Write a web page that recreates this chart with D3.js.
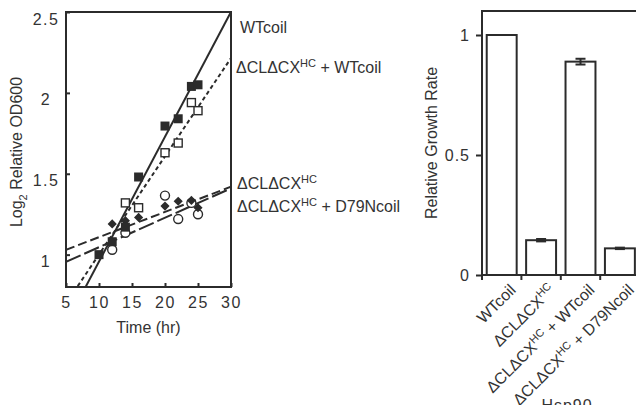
<!DOCTYPE html>
<html>
<head>
<meta charset="utf-8">
<script src="https://cdn.jsdelivr.net/npm/d3@7"></script>
<style>
  body { margin: 0; background: #fff; }
  text { font-family: Arial, "Liberation Sans", sans-serif; fill: #333; }
</style>
</head>
<body>
<svg id="chart" width="636" height="405"></svg>
<script>
(function () {
    'use strict';

    // growth curves (left panel)
    var timeTicks = [5, 10, 15, 20, 25, 30];
    var odTicks = [1, 1.5, 2, 2.5];

    var wtTime = [10, 12, 14, 16, 20, 22, 24, 25];
    var wtOD = [1.0, 1.08, 1.17, 1.48, 1.795, 1.84, 2.04, 2.05];

    var wtcTime = [14, 16, 20, 22, 24, 25];
    var wtcOD = [1.32, 1.29, 1.63, 1.69, 1.94, 1.89];

    var dclTime = [12, 14, 16, 20, 22, 24, 25];
    var dclOD = [1.19, 1.21, 1.23, 1.30, 1.33, 1.335, 1.29];

    var d79Time = [12, 14, 20, 22, 24, 25];
    var d79OD = [1.03, 1.135, 1.365, 1.22, 1.32, 1.25];

    // fitted lines: slope and intercept in log2 OD per hr
    var fitSlope = [0.0772, 0.0607, 0.0156, 0.0182];
    var fitIntercept = [0.185, 0.394, 0.952, 0.864];
    var fitDash = ["none", "4,3", "9,4", "16,4"];

    // growth rates (right panel)
    var rateNames = ["WTcoil", "dcl", "dclwt", "dcld79"];
    var rateValues = [1.0, 0.145, 0.889, 0.111];
    var rateErrors = [0, 0.005, 0.012, 0.003];
    var rateTicks = [0, 0.5, 1];

    var ink = "#2b2b2b";
    var svg = d3.select("#chart");

    // ---------- left panel ----------
    var x = d3.scaleLinear().domain([5, 30]).range([66, 231]);
    var y = d3.scaleLinear().domain([0.8, 2.5]).range([287, 12]);

    svg.append("defs").append("clipPath").attr("id", "plotclip")
        .append("rect")
        .attr("x", x(5)).attr("y", y(2.5))
        .attr("width", x(30) - x(5)).attr("height", y(0.8) - y(2.5));

    var yAxis = svg.append("g")
        .attr("transform", "translate(" + x(5) + ",0)")
        .call(d3.axisLeft(y).tickValues(odTicks).tickSize(-4).tickFormat(d3.format("")));
    yAxis.select(".domain").remove();
    yAxis.selectAll("line").attr("stroke", ink).attr("stroke-width", 2);
    yAxis.selectAll("text")
        .attr("x", -20).attr("dy", "0.75em")
        .attr("text-anchor", "middle")
        .style("font-size", "16px").style("letter-spacing", "1.5px")
        .style("fill", "#333");

    var xAxis = svg.append("g")
        .attr("transform", "translate(0," + y(0.8) + ")")
        .call(d3.axisBottom(x).tickValues(timeTicks).tickSize(-4));
    xAxis.select(".domain").remove();
    xAxis.selectAll("line").attr("stroke", ink).attr("stroke-width", 2);
    xAxis.selectAll("text")
        .attr("y", 10)
        .style("font-size", "16px").style("letter-spacing", "1.5px")
        .style("fill", "#333");

    // fit lines
    var fits = fitSlope.map(function (s, i) {
        return { s: s, b: fitIntercept[i], dash: fitDash[i] };
    });
    svg.append("g").attr("clip-path", "url(#plotclip)")
        .selectAll("line")
        .data(fits)
        .enter()
        .append("line")
        .attr("x1", x(5))
        .attr("y1", function (d) { return y(d.b + d.s * 5); })
        .attr("x2", x(30))
        .attr("y2", function (d) { return y(d.b + d.s * 30); })
        .attr("stroke", ink)
        .attr("stroke-width", 2)
        .attr("stroke-dasharray", function (d) { return d.dash; });

    function pts(ts, vs) {
        return ts.map(function (t, i) { return { t: t, v: vs[i] }; });
    }

    var marks = svg.append("g");

    marks.selectAll("circle.d79")
        .data(pts(d79Time, d79OD))
        .enter()
        .append("circle")
        .attr("class", "d79")
        .attr("cx", function (d) { return x(d.t); })
        .attr("cy", function (d) { return y(d.v); })
        .attr("r", 4.5)
        .attr("fill", "white")
        .attr("stroke", ink)
        .attr("stroke-width", 1.4);

    marks.selectAll("rect.wtc")
        .data(pts(wtcTime, wtcOD))
        .enter()
        .append("rect")
        .attr("class", "wtc")
        .attr("x", function (d) { return x(d.t) - 4; })
        .attr("y", function (d) { return y(d.v) - 4; })
        .attr("width", 8).attr("height", 8)
        .attr("fill", "white")
        .attr("stroke", ink)
        .attr("stroke-width", 1.4);

    marks.selectAll("path.dcl")
        .data(pts(dclTime, dclOD))
        .enter()
        .append("path")
        .attr("class", "dcl")
        .attr("transform", function (d) {
            return "translate(" + x(d.t) + "," + y(d.v) + ") rotate(45)";
        })
        .attr("d", d3.symbol(d3.symbolSquare, 42))
        .attr("fill", ink);

    marks.selectAll("rect.wt")
        .data(pts(wtTime, wtOD))
        .enter()
        .append("rect")
        .attr("class", "wt")
        .attr("x", function (d) { return x(d.t) - 4.5; })
        .attr("y", function (d) { return y(d.v) - 4.5; })
        .attr("width", 9).attr("height", 9)
        .attr("fill", ink);

    // frame
    svg.append("rect")
        .attr("x", x(5)).attr("y", y(2.5))
        .attr("width", x(30) - x(5)).attr("height", y(0.8) - y(2.5))
        .attr("fill", "none").attr("stroke", ink).attr("stroke-width", 2);

    svg.append("text")
        .attr("transform", "translate(22,152) rotate(-90)")
        .attr("text-anchor", "middle")
        .style("font-size", "16px")
        .call(function (t) {
            t.append("tspan").text("Log");
            t.append("tspan").attr("dy", 5).style("font-size", "11px").text("2");
            t.append("tspan").attr("dy", -5).text(" Relative OD600");
        });

    svg.append("text")
        .attr("x", (x(5) + x(30)) / 2).attr("y", 333)
        .attr("text-anchor", "middle")
        .style("font-size", "16px")
        .text("Time (hr)");

    // legend labels beside the fits
    function mutant(t, tail) {
        t.append("tspan").text("\u0394CL\u0394CX");
        t.append("tspan").attr("dy", -6).style("font-size", "11px").text("HC");
        if (tail) {
            t.append("tspan").attr("dy", 6).text(tail);
        }
    }
    svg.append("text").attr("x", 240).attr("y", 33)
        .style("font-size", "16px").text("WTcoil");
    svg.append("text").attr("x", 236).attr("y", 73)
        .style("font-size", "16px").call(mutant, " + WTcoil");
    svg.append("text").attr("x", 237).attr("y", 189)
        .style("font-size", "16px").call(mutant, null);
    svg.append("text").attr("x", 237).attr("y", 212)
        .style("font-size", "16px").call(mutant, " + D79Ncoil");

    // ---------- right panel ----------
    var xb = d3.scaleBand().domain(rateNames).range([482, 639.6]);
    var yb = d3.scaleLinear().domain([0, 1.1]).range([275, 11]);
    var barW = xb.bandwidth() * 0.76;

    var rAxis = svg.append("g")
        .attr("transform", "translate(482,0)")
        .call(d3.axisLeft(yb).tickValues(rateTicks).tickSize(6).tickPadding(6).tickFormat(d3.format("")));
    rAxis.select(".domain").remove();
    rAxis.selectAll("line").attr("stroke", ink).attr("stroke-width", 2);
    rAxis.selectAll("text")
        .style("font-size", "16px").style("letter-spacing", "1px")
        .style("fill", "#333");

    svg.append("text")
        .attr("transform", "translate(437,143) rotate(-90)")
        .attr("text-anchor", "middle")
        .style("font-size", "16px")
        .text("Relative Growth Rate");

    var bars = rateNames.map(function (n, i) {
        return { name: n, v: rateValues[i], e: rateErrors[i] };
    });

    svg.selectAll("rect.bar")
        .data(bars)
        .enter()
        .append("rect")
        .attr("class", "bar")
        .attr("x", function (d) { return xb(d.name) + (xb.bandwidth() - barW) / 2; })
        .attr("y", function (d) { return yb(d.v); })
        .attr("width", barW)
        .attr("height", function (d) { return yb(0) - yb(d.v); })
        .attr("fill", "white")
        .attr("stroke", ink)
        .attr("stroke-width", 2);

    var errs = svg.selectAll("g.err")
        .data(bars.filter(function (d) { return d.e > 0; }))
        .enter()
        .append("g")
        .attr("class", "err")
        .attr("stroke", ink)
        .attr("stroke-width", 2);
    errs.append("line")
        .attr("x1", function (d) { return xb(d.name) + xb.bandwidth() / 2; })
        .attr("x2", function (d) { return xb(d.name) + xb.bandwidth() / 2; })
        .attr("y1", function (d) { return yb(d.v + d.e); })
        .attr("y2", function (d) { return yb(d.v - d.e); });
    errs.selectAll("line.cap")
        .data(function (d) { return [d.v + d.e, d.v - d.e].map(function (v) { return { name: d.name, v: v }; }); })
        .enter()
        .append("line")
        .attr("class", "cap")
        .attr("x1", function (d) { return xb(d.name) + xb.bandwidth() / 2 - 5; })
        .attr("x2", function (d) { return xb(d.name) + xb.bandwidth() / 2 + 5; })
        .attr("y1", function (d) { return yb(d.v); })
        .attr("y2", function (d) { return yb(d.v); });

    // frame lines of the bar panel
    svg.append("path")
        .attr("d", "M636," + yb(1.1) + "H482V" + (yb(0) + 5))
        .attr("fill", "none").attr("stroke", ink).attr("stroke-width", 2);
    svg.append("line")
        .attr("x1", 482).attr("x2", 636)
        .attr("y1", yb(0)).attr("y2", yb(0))
        .attr("stroke", ink).attr("stroke-width", 2);
    svg.selectAll("line.btick")
        .data(rateNames.slice(1))
        .enter()
        .append("line")
        .attr("class", "btick")
        .attr("x1", function (d) { return xb(d); })
        .attr("x2", function (d) { return xb(d); })
        .attr("y1", yb(0)).attr("y2", yb(0) + 5)
        .attr("stroke", ink).attr("stroke-width", 2);

    var labelTail = [null, null, " + WTcoil", " + D79Ncoil"];
    svg.selectAll("text.cat")
        .data(rateNames)
        .enter()
        .append("text")
        .attr("class", "cat")
        .attr("text-anchor", "end")
        .style("font-size", "16px")
        .attr("transform", function (d) {
            return "translate(" + (xb(d) + xb.bandwidth() / 2 + 15) + ",291) rotate(-45)";
        })
        .each(function (d, i) {
            var t = d3.select(this);
            if (i === 0) {
                t.text("WTcoil");
            } else {
                mutant(t, labelTail[i]);
            }
        });

    svg.append("text")
        .attr("x", 567).attr("y", 411)
        .attr("text-anchor", "middle")
        .style("font-size", "16px").style("letter-spacing", "1px")
        .text("Hsp90");
})();
</script>
</body>
</html>
